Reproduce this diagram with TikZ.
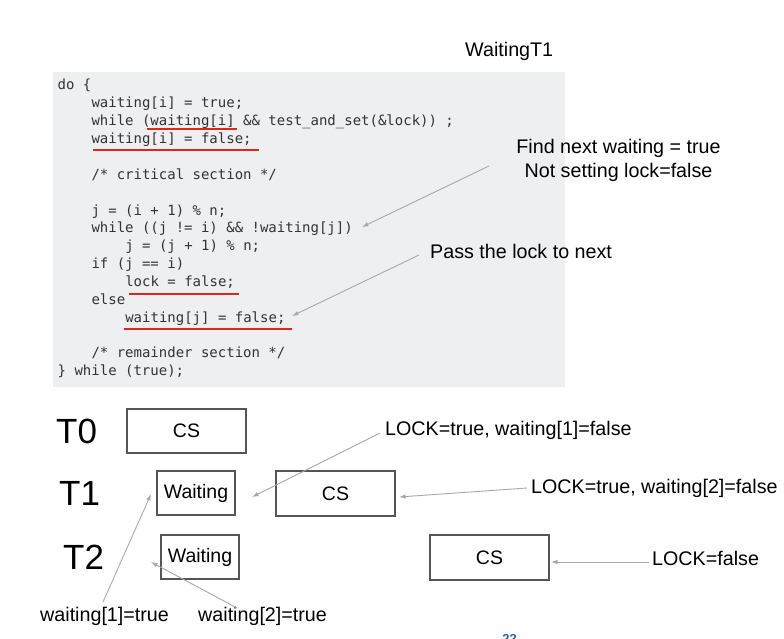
\documentclass[tikz,border=0pt]{standalone}
\usepackage{fontspec}
\setmainfont{Liberation Sans}
\newfontfamily\codefont{DejaVu Sans Mono}
\usetikzlibrary{arrows.meta}
\definecolor{codebg}{HTML}{EEEFF1}
\definecolor{codegray}{HTML}{333333}
\definecolor{ulred}{HTML}{E0261B}
\definecolor{arrgray}{HTML}{A8A8A8}
\definecolor{boxgray}{HTML}{555555}
\definecolor{pgblue}{HTML}{2A62B0}
\tikzset{
  codeline/.style={anchor=base west, inner sep=0pt, text=codegray,
    font=\codefont\fontsize{14}{17}\selectfont},
  lbl/.style={anchor=base west, inner sep=0pt, font=\fontsize{19.7}{23}\selectfont},
  tlbl/.style={anchor=base west, inner sep=0pt, font=\fontsize{35}{40}\selectfont},
  stbox/.style={draw=boxgray, line width=1.3pt, inner sep=0pt,
    font=\fontsize{19.5}{23}\selectfont},
  ul/.style={draw=ulred, line width=2.8pt},
  arr/.style={draw=arrgray, line width=0.9pt, -{Latex[length=6.5pt,width=4.5pt]}}
}
\begin{document}
\begin{tikzpicture}[x=1pt,y=-1pt]
\useasboundingbox (0,0) rectangle (784,639);
% code background
\fill[codebg] (53,72) rectangle (565,387);
% code lines
\node[codeline] (c0)  at (57.5,90)    {do \{};
\node[codeline] (c1)  at (91.3,107.9) {waiting[i] = true;};
\node[codeline] (c2)  at (91.3,125.7) {while (waiting[i] \&\& test\_and\_set(\&lock)) ;};
\node[codeline] (c3)  at (91.3,143.6) {waiting[i] = false;};
\node[codeline] (c5)  at (91.3,179.3) {/* critical section */};
\node[codeline] (c7)  at (91.3,215)   {j = (i + 1) \% n;};
\node[codeline] (c8)  at (91.3,232.9) {while ((j != i) \&\& !waiting[j])};
\node[codeline] (c9)  at (125.1,250.7) {j = (j + 1) \% n;};
\node[codeline] (c10) at (91.3,268.6) {if (j == i)};
\node[codeline] (c11) at (125.1,286.4) {lock = false;};
\node[codeline] (c12) at (91.3,304.3) {else};
\node[codeline] (c13) at (125.1,322.1) {waiting[j] = false;};
\node[codeline] (c15) at (91.3,357.9) {/* remainder section */};
\node[codeline] (c16) at (57.5,375.8) {\} while (true);};
% red underlines
\draw[ul] (147,129) -- (237,129);
\draw[ul] (93,150) -- (259,150);
\draw[ul] (129,294) -- (239,294);
\draw[ul] (124,329) -- (292,329);
% annotations
\node[lbl] (wt1) at (465,57) {WaitingT1};
\node[lbl, anchor=base] (find1) at (618.5,154) {Find next waiting = true};
\node[lbl, anchor=base] (find2) at (618.5,178) {Not setting lock=false};
\node[lbl] (pass) at (430,258) {Pass the lock to next};
\coordinate (findstart) at (489,166);
\coordinate (findtip) at (362,227);
\coordinate (passstart) at (419,255);
\coordinate (passtip) at (292,316);
\draw[arr] (findstart) -- (findtip);
\draw[arr] (passstart) -- (passtip);
% thread labels
\node[tlbl] (t0) at (56,443) {T0};
\node[tlbl] (t1) at (59,505) {T1};
\node[tlbl] (t2) at (63,569) {T2};
% boxes
\node[stbox, minimum width=119pt, minimum height=44pt] (cs0) at (186.5,431) {CS};
\node[stbox, minimum width=78pt, minimum height=44pt] (w1) at (196,493) {Waiting};
\node[stbox, minimum width=119pt, minimum height=45pt] (cs1) at (335.5,493.5) {CS};
\node[stbox, minimum width=78pt, minimum height=44pt] (w2) at (200,557) {Waiting};
\node[stbox, minimum width=119pt, minimum height=45pt] (cs2) at (489.5,557.5) {CS};
% bottom labels
\node[lbl] (l1) at (385,435) {LOCK=true, waiting[1]=false};
\node[lbl] (l2) at (531,493) {LOCK=true, waiting[2]=false};
\node[lbl] (l3) at (652,565) {LOCK=false};
\node[lbl] (wa1) at (40,621) {waiting[1]=true};
\node[lbl] (wa2) at (198,621) {waiting[2]=true};
% bottom arrows
\coordinate (a1s) at (380,433);
\coordinate (a1t) at (252,497);
\coordinate (a2s) at (527,488);
\coordinate (a2t) at (399,497);
\coordinate (a3s) at (649,562);
\coordinate (a3t) at (551,562);
\coordinate (a4s) at (103,602);
\coordinate (a4t) at (151,494);
\coordinate (a5s) at (237,608);
\coordinate (a5t) at (151,562);
\draw[arr] (a1s) -- (a1t);
\draw[arr] (a2s) -- (a2t);
\draw[arr] (a3s) -- (a3t);
\draw[arr] (a4s) -- (a4t);
\draw[arr] (a5s) -- (a5t);
% page number (cut off at the bottom edge)
\node[anchor=north, inner sep=0pt, text=pgblue, font=\bfseries\fontsize{13}{15}\selectfont] (pg) at (509.5,634.5) {22};
\end{tikzpicture}
\end{document}
